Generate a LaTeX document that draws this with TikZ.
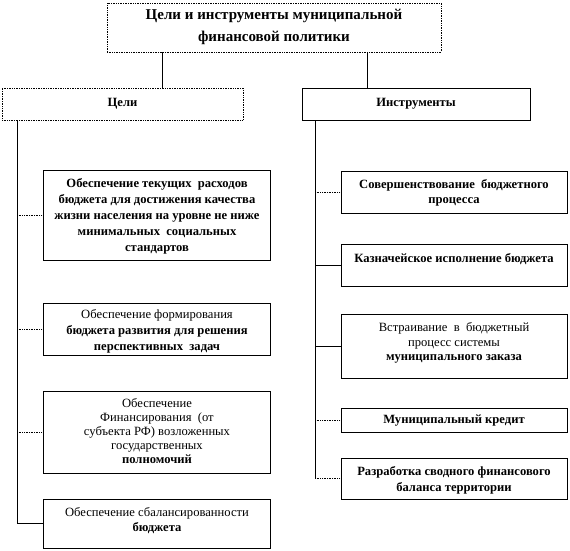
\documentclass[tikz,border=0pt]{standalone}
\usepackage{fontspec}
\setmainfont{Liberation Serif}
\usetikzlibrary{fit}
\begin{document}
\begin{tikzpicture}[x=1pt,y=-1pt,
 box/.style={draw=black, line width=0.7pt, inner sep=0pt},
 lbl/.style={align=center, inner sep=0pt, font=\fontsize{12.6}{16}\selectfont},
 conn/.style={draw=black, line width=0.7pt},
 dconn/.style={conn, densely dotted}]
\fill[white] (0,0) rectangle (570,551);
\useasboundingbox (0,0) rectangle (570,551);
% top
\node[box, densely dotted, fit={(107,3) (441,52)}] (top) {};
\node[lbl, font=\fontsize{15}{22}\selectfont\bfseries] (topt) at (274,27) {Цели и инструменты муниципальной\\финансовой политики};
% second level
\node[box, densely dotted, fit={(2,88) (243,120)}] (goals) {};
\node[lbl, font=\fontsize{12.6}{16}\selectfont\bfseries] (goalst) at (goals.center) {Цели};
\node[box, fit={(302,88) (530,120)}] (instr) {};
\node[lbl, font=\fontsize{12.6}{16}\selectfont\bfseries] (instrt) at (instr.center) {Инструменты};
% left boxes
\node[box, fit={(43,170) (270,260)}] (g1) {};
\node[lbl, font=\fontsize{12.6}{16}\selectfont\bfseries] (g1t) at (157,216) {Обеспечение текущих\ \ расходов\\бюджета для достижения качества\\жизни населения на уровне не ниже\\минимальных\ \ социальных\\стандартов};
\node[box, fit={(43,303) (270,355)}] (g2) {};
\node[lbl] (g2t) at (157,331) {Обеспечение формирования\\\textbf{бюджета развития для решения}\\\textbf{перспективных\ \ задач}};
\node[box, fit={(43,391) (270,473)}] (g3) {};
\node[lbl, font=\fontsize{12.6}{13.8}\selectfont] (g3t) at (157,431) {Обеспечение\\Финансирования\ \ (от\\субъекта РФ) возложенных\\государственных\\\textbf{полномочий}};
\node[box, fit={(43,499) (270,548)}] (g4) {};
\node[lbl, font=\fontsize{12.6}{15}\selectfont] (g4t) at (157,521) {Обеспечение сбалансированности\\\textbf{бюджета}};
% right boxes
\node[box, fit={(341,171) (567,213)}] (i1) {};
\node[lbl, font=\fontsize{12.6}{15}\selectfont\bfseries] (i1t) at (454,193) {Совершенствование\ \ бюджетного\\процесса};
\node[box, fit={(341,244) (567,286)}] (i2) {};
\node[lbl, font=\fontsize{12.6}{15}\selectfont\bfseries] (i2t) at (454,259) {Казначейское исполнение бюджета};
\node[box, fit={(341,314) (567,378)}] (i3) {};
\node[lbl, font=\fontsize{12.6}{14.5}\selectfont] (i3t) at (454,343) {Встраивание\ \ в\ \ бюджетный\\процесс системы\\\textbf{муниципального заказа}};
\node[box, fit={(341,408) (567,432)}] (i4) {};
\node[lbl, font=\fontsize{12.6}{15}\selectfont\bfseries] (i4t) at (454,421) {Муниципальный кредит};
\node[box, fit={(341,458) (567,499)}] (i5) {};
\node[lbl, font=\fontsize{12.6}{16}\selectfont\bfseries] (i5t) at (454,480) {Разработка сводного финансового\\баланса территории};
% connectors from top
\draw[conn] ([xshift=56pt]top.south west) -- ([xshift=56pt]top.south west |- goals.north);
\draw[conn] ([xshift=261pt]top.south west) -- ([xshift=261pt]top.south west |- instr.north);
% left spine
\coordinate (spL) at (17,120);
\draw[conn] (goals.south -| spL) -- (spL |- g4.west) -- (g4.west);
\draw[dconn] (spL |- g1.west) -- (g1.west);
\draw[dconn] (spL |- g2.west) -- (g2.west);
\draw[dconn] (spL |- g3.west) -- (g3.west);
% right spine
\coordinate (spR) at (315,120);
\draw[conn] (instr.south -| spR) -- (spR |- i5.west);
\draw[dconn] (spR |- i5.west) -- (i5.west);
\draw[dconn] (spR |- i1.west) -- (i1.west);
\draw[conn] (spR |- i2.west) -- (i2.west);
\draw[conn] (spR |- i3.west) -- (i3.west);
\draw[dconn] (spR |- i4.west) -- (i4.west);
\end{tikzpicture}
\end{document}
